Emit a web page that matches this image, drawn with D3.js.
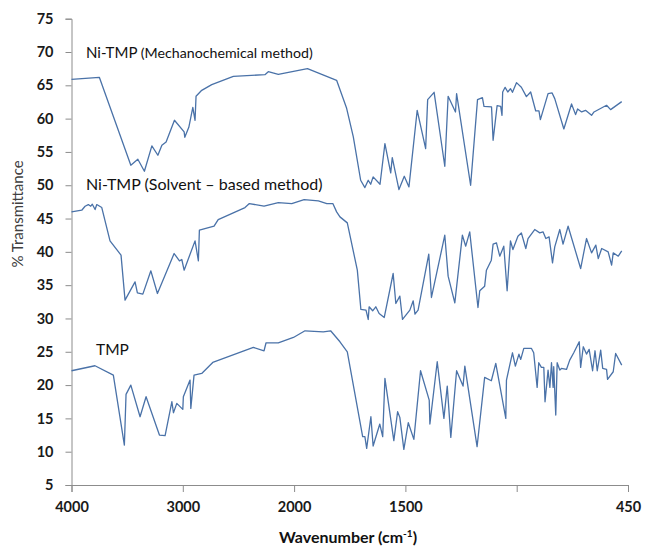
<!DOCTYPE html>
<html lang="en">
<head>
<meta charset="UTF-8">
<title>FTIR spectra</title>
<style>
    body { margin: 0; background: #fff; }
    .axis path, .axis line { stroke: #8c8c8c; stroke-width: 1px; }
    .axis text { font: bold 14.5px Lato, sans-serif; fill: #1a1a1a; }
    .spec { fill: none; stroke: #4a72a8; stroke-width: 1.3px; stroke-linejoin: round; }
    .note { font-family: Lato, sans-serif; fill: #111; }
</style>
</head>
<body>
<svg id="chart" width="652" height="547"></svg>
<script src="https://d3js.org/d3.v7.min.js"></script>
<script>
    // x ticks (the axis is stretched below 2000 cm-1, as in the original)
    const xTicks = [4000, 3000, 2000, 1500, 1000, 450];
    const xTickLabels = ['4000', '3000', '2000', '1500', '', '450'];
    const yTicks = d3.range(5, 80, 5);

    // [wavenumber, %T]
    const mech = [
        [4000, 65.9], [3750, 66.2], [3467, 53.0], [3404, 53.9], [3345, 52.1], [3278, 55.9],
        [3224, 54.5], [3188, 56.0], [3150, 56.5], [3075, 59.75], [2988, 58.0], [2982, 57.2],
        [2946, 58.7], [2910, 61.7], [2890, 59.75], [2881, 63.35], [2830, 64.25], [2740, 65.1],
        [2546, 66.35], [2262, 66.6], [2232, 67.05], [2142, 66.65], [1940, 67.5], [1809, 65.75],
        [1764, 61.55], [1734, 57.25], [1701, 50.75], [1682, 49.65], [1667, 50.75], [1656, 50.15],
        [1645, 51.25], [1614, 50.15], [1592, 56.25], [1566, 51.85], [1559, 54.15], [1529, 49.35],
        [1505, 51.35], [1484, 49.75], [1447, 61.25], [1409, 55.5], [1400, 62.85], [1371, 63.95],
        [1323, 52.85], [1308, 63.35], [1275, 61.0], [1270, 63.75], [1207, 50.0], [1176, 62.85],
        [1154, 63.15], [1147, 61.85], [1113, 61.75], [1106, 56.75], [1088, 61.95], [1072, 61.85],
        [1066, 60.5], [1063, 64.0], [1052, 64.7], [1040, 64.0], [1028, 64.5], [1019, 63.95],
        [1001, 65.4], [977, 64.7], [952, 63.3], [931, 64.0], [906, 61.15], [890, 61.15],
        [883, 59.85], [845, 63.75], [825, 63.85], [812, 63.0], [767, 58.45], [729, 62.2],
        [709, 60.6], [699, 61.45], [679, 61.0], [660, 61.25], [630, 60.5], [618, 61.0],
        [556, 62.0], [536, 61.35], [481, 62.55]
    ];

    const solvent = [
        [4000, 46.0], [3908, 46.25], [3878, 46.85], [3849, 47.1], [3827, 46.85], [3813, 47.15],
        [3788, 46.35], [3773, 47.1], [3728, 46.65], [3654, 41.65], [3555, 39.5], [3519, 32.75],
        [3429, 35.5], [3408, 33.85], [3359, 33.65], [3287, 37.15], [3228, 33.75], [3078, 39.75],
        [3030, 38.65], [3009, 38.85], [2988, 37.25], [2890, 41.65], [2860, 38.65], [2851, 43.25],
        [2719, 43.85], [2682, 44.85], [2441, 46.65], [2402, 47.25], [2270, 46.85], [2142, 47.4],
        [2021, 47.25], [1955, 47.85], [1891, 47.65], [1853, 47.25], [1826, 47.25], [1809, 46.0],
        [1794, 45.25], [1761, 44.35], [1716, 37.25], [1700, 31.35], [1677, 31.25], [1667, 29.85],
        [1663, 31.75], [1647, 31.15], [1633, 31.75], [1618, 30.75], [1595, 30.15], [1555, 36.75],
        [1543, 32.25], [1525, 33.35], [1513, 29.85], [1480, 31.25], [1465, 32.65], [1457, 30.65],
        [1443, 31.25], [1395, 39.65], [1383, 33.15], [1323, 42.5], [1308, 36.35], [1278, 32.35],
        [1244, 42.5], [1229, 40.85], [1211, 43.0], [1174, 31.65], [1166, 34.15], [1144, 34.85],
        [1136, 37.25], [1114, 38.75], [1106, 41.15], [1091, 41.35], [1076, 39.35], [1058, 40.85],
        [1043, 34.15], [1028, 41.65], [1017, 40.35], [994, 42.35], [977, 42.85], [955, 40.5],
        [944, 42.0], [911, 43.35], [886, 42.85], [870, 43.0], [856, 42.0], [840, 42.25],
        [823, 38.35], [812, 40.75], [787, 43.35], [771, 41.15], [746, 43.85], [684, 37.5],
        [655, 42.0], [630, 39.85], [609, 41.0], [597, 39.0], [580, 40.5], [548, 40.0],
        [531, 38.0], [523, 39.85], [498, 39.35], [481, 40.15]
    ];

    const tmp = [
        [4000, 22.15], [3789, 22.9], [3624, 21.5], [3525, 11.0], [3510, 18.6], [3467, 20.0],
        [3384, 15.25], [3330, 18.25], [3210, 12.5], [3159, 12.4], [3098, 17.5], [3084, 15.85],
        [3054, 17.25], [3000, 16.35], [2995, 18.25], [2935, 20.75], [2928, 16.5], [2899, 21.5],
        [2830, 21.75], [2731, 23.4], [2366, 25.65], [2270, 25.15], [2252, 26.35], [2142, 26.35],
        [2006, 27.15], [1951, 28.15], [1869, 28.0], [1836, 28.15], [1794, 26.5], [1761, 25.0],
        [1692, 12.25], [1682, 12.25], [1674, 10.5], [1655, 15.25], [1645, 10.85], [1615, 14.15],
        [1602, 12.25], [1592, 21.0], [1552, 11.65], [1535, 16.0], [1525, 15.15], [1507, 10.35],
        [1487, 14.35], [1462, 11.85], [1432, 22.15], [1393, 17.75], [1390, 14.15], [1357, 23.5],
        [1327, 15.0], [1312, 19.85], [1296, 12.15], [1270, 22.15], [1241, 19.85], [1233, 22.85],
        [1178, 10.75], [1144, 21.15], [1114, 20.65], [1094, 23.25], [1049, 15.0], [1046, 20.75],
        [1019, 24.85], [1006, 22.85], [989, 24.65], [980, 23.85], [965, 25.5], [927, 25.5],
        [916, 24.85], [899, 19.65], [891, 23.35], [878, 22.65], [866, 22.65], [860, 17.5],
        [845, 22.25], [836, 19.65], [828, 23.35], [820, 19.65], [817, 22.75], [807, 15.5],
        [800, 23.35], [787, 22.25], [779, 22.5], [754, 22.35], [738, 23.75], [718, 24.85],
        [691, 26.5], [684, 22.65], [671, 25.75], [655, 24.65], [642, 25.35], [625, 22.15],
        [613, 25.15], [602, 22.15], [585, 25.25], [575, 22.5], [556, 22.35], [551, 20.85],
        [523, 22.0], [511, 24.75], [481, 23.0]
    ];

    const svg = d3.select('#chart');
    const plotLeft = 71.5, plotRight = 628, plotTop = 18.7, plotBottom = 485;

    // piecewise scale: equal spacing for each tick interval
    const x = d3.scaleLinear()
        .domain(xTicks)
        .range(xTicks.map((d, i) => plotLeft + i * (plotRight - plotLeft) / (xTicks.length - 1)));
    const y = d3.scaleLinear().domain([5, 75]).range([plotBottom, plotTop]);

    svg.append('g')
        .attr('class', 'axis')
        .attr('transform', `translate(0,${plotBottom})`)
        .call(d3.axisBottom(x).tickValues(xTicks).tickSizeOuter(0).tickSize(7).tickPadding(10)
            .tickFormat((d, i) => xTickLabels[i]));

    svg.append('g')
        .attr('class', 'axis')
        .attr('transform', `translate(${plotLeft},0)`)
        .call(d3.axisLeft(y).tickValues(yTicks).tickSizeOuter(0).tickSize(6).tickPadding(12));

    const line = d3.line().x(d => x(d[0])).y(d => y(d[1]));
    [mech, solvent, tmp].forEach(s => {
        svg.append('path').datum(s).attr('class', 'spec').attr('d', line);
    });

    // labels on the curves
    const n1 = svg.append('text').attr('class', 'note').attr('x', 86).attr('y', 58);
    n1.append('tspan').attr('font-size', 15).text('Ni-TMP ');
    n1.append('tspan').attr('font-size', 14.2).text('(Mechanochemical method)');

    svg.append('text').attr('class', 'note').attr('x', 86).attr('y', 190)
        .attr('font-size', 16).text('Ni-TMP (Solvent \u2013 based method)');

    svg.append('text').attr('class', 'note').attr('x', 96).attr('y', 355)
        .attr('font-size', 15.5).text('TMP');

    // axis titles
    const xt = svg.append('text')
        .attr('x', 348).attr('y', 543)
        .attr('text-anchor', 'middle')
        .style('font', 'bold 16px Lato, sans-serif').style('fill', '#111');
    xt.append('tspan').text('Wavenumber (cm');
    xt.append('tspan').attr('dy', -6).attr('font-size', 10).text('-1');
    xt.append('tspan').attr('dy', 6).text(')');

    svg.append('text')
        .attr('transform', 'translate(23,214) rotate(-90)')
        .attr('text-anchor', 'middle')
        .style('font', '15px Lato, sans-serif').style('fill', '#404040')
        .text('% Transmittance');
</script>
</body>
</html>
